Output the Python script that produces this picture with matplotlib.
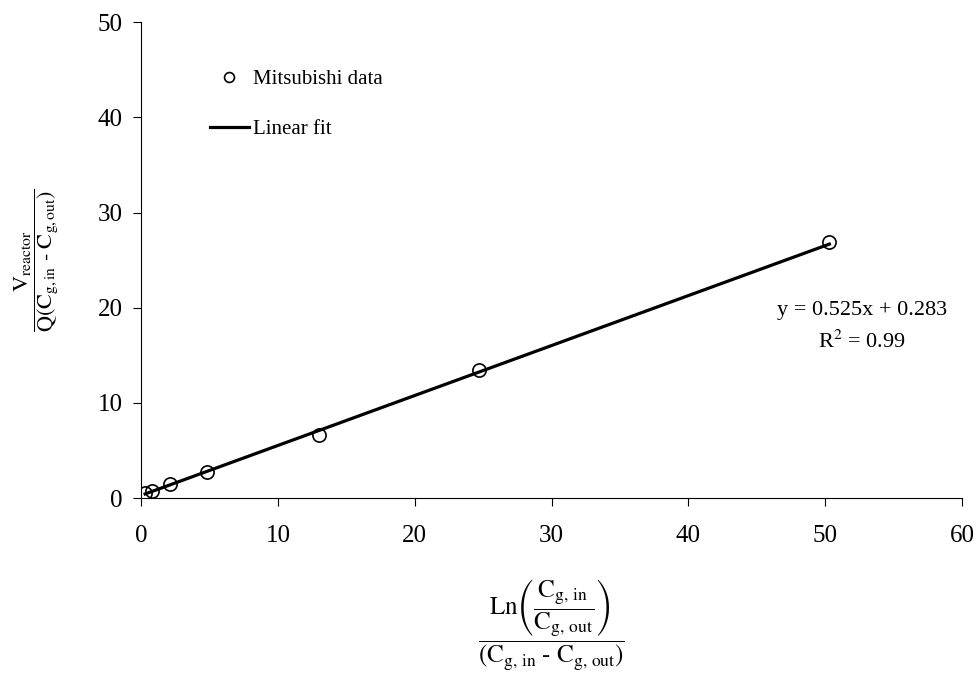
import numpy as np
import matplotlib.pyplot as plt

plt.rcParams['font.family'] = ['Liberation Serif', 'DejaVu Serif']
plt.rcParams['mathtext.fontset'] = 'stix'

x_data = [0.3, 0.8, 2.1, 4.8, 13.0, 24.7, 50.3]
y_data = [0.5, 0.8, 1.5, 2.8, 6.6, 13.5, 26.9]
slope = 0.525
intercept = 0.283
r2 = 0.99

fig = plt.figure(figsize=(9.76, 6.75), dpi=100)
ax = fig.add_axes([0.1445, 0.262, 0.8412, 0.705])

xf = np.array([min(x_data), max(x_data)])
ax.plot(x_data, y_data, 'o', mfc='none', mec='k', ms=9.5, mew=1.2,
        label='Mitsubishi data')
ax.plot(xf, slope * xf + intercept, 'k-', lw=2.3, label='Linear fit')

ax.set_xlim(0, 60)
ax.set_ylim(0, 50)
ax.set_xticks(range(0, 61, 10))
ax.set_yticks(range(0, 51, 10))
ax.spines['top'].set_visible(False)
ax.spines['right'].set_visible(False)
ax.tick_params(direction='out', length=6, labelsize=18)
ax.tick_params(axis='x', pad=13)
ax.tick_params(axis='y', pad=7)

ax.set_ylabel(r'$\dfrac{\mathrm{V}_{\mathrm{reactor}}}'
              r'{\mathrm{Q}\left(\mathrm{C}_{\mathrm{g,in}}\ \text{-}\ \mathrm{C}_{\mathrm{g,out}}\right)}$',
              fontsize=16)
ax.yaxis.set_label_coords(-0.097, 0.5)
ax.set_xlabel(r'$\dfrac{\mathrm{Ln}\left(\dfrac{\mathrm{C}_{\mathrm{g,\,in}}}{\mathrm{C}_{\mathrm{g,\,out}}}\right)}'
              r'{\left(\mathrm{C}_{\mathrm{g,\,in}}\ \text{-}\ \mathrm{C}_{\mathrm{g,\,out}}\right)}$',
              fontsize=18)
ax.xaxis.set_label_coords(0.5, -0.165)

ax.text(52.7, 19.7, 'y = %.3fx + %.3f' % (slope, intercept), fontsize=16,
        ha='center', va='center')
ax.text(52.7, 16.4, r'R$^2$ = %.2f' % r2, fontsize=16, ha='center', va='center')

ax.legend(loc='upper left', bbox_to_anchor=(0.084, 0.90), frameon=False,
          borderaxespad=0, borderpad=0, fontsize=15, handlelength=1.85,
          handletextpad=0.2, labelspacing=1.45, markerscale=0.75)

fig.savefig('out.png', dpi=100)
